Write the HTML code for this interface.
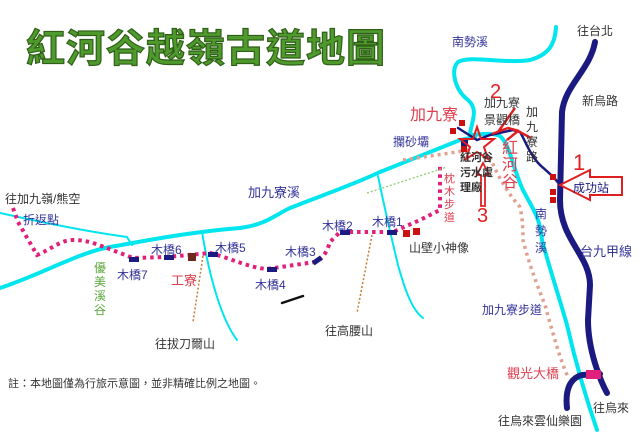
<!DOCTYPE html>
<html><head><meta charset="utf-8"><style>
html,body{margin:0;padding:0;background:#fff;}
svg{display:block;}
text{font-family:"Liberation Sans","Noto Sans CJK TC",sans-serif;}
</style></head><body>
<svg width="640" height="443" viewBox="0 0 640 443" xmlns="http://www.w3.org/2000/svg">
<rect width="640" height="443" fill="#fff"/>
<!-- title -->
<text x="26" y="62" font-size="39" font-weight="bold" fill="#4f9a2c" stroke="#2f5f18" stroke-width="1.2" letter-spacing="1">紅河谷越嶺古道地圖</text>

<!-- rivers -->
<g fill="none" stroke="#00e5ee" stroke-linecap="round">
<path d="M0,288 C40,275 80,252 110,247 C150,240 190,232 240,228 C265,225 275,215 290,208 C320,196 350,186 380,172 C410,160 440,148 460,140 L475,137" stroke-width="4"/>
<path d="M556,27 C555,45 548,55 530,60 C505,64 470,55 458,62 C450,70 455,90 468,100 C480,110 470,125 470,135 C478,135 490,132 500,136 C510,145 512,165 522,188 C530,205 540,215 542,240 C550,270 560,300 567,325 C575,360 585,395 597,430" stroke-width="4"/>
<path d="M0,213 C40,222 90,232 127,237 L132,245" stroke-width="2"/>
<path d="M202,232 C210,280 222,320 237,340" stroke-width="2"/>
<path d="M378,176 C385,210 392,240 398,265 C405,290 412,310 423,318" stroke-width="2"/>
</g>

<!-- roads -->
<g fill="none" stroke="#1a1a80" stroke-linecap="round">
<path d="M595,42 C590,70 565,85 562,112 L560,200 C560,240 590,255 590,285 L588,320 C588,350 600,380 607,393" stroke-width="6"/>
<path d="M600,374 L582,375 C570,378 565,390 567,408" stroke-width="6"/>
<path d="M458,128 L477,140 L490,135 L513,130 L520,132 C525,140 530,155 540,165 C548,172 555,178 560,185" stroke-width="2.5"/>
<path d="M282,303 L303,296" stroke-width="2.5" stroke="#111"/>
</g>
<rect x="586" y="370" width="15" height="9" fill="#e0207a"/>

<!-- dotted trails -->
<path d="M13,208 L18,222 L37,255 C50,250 60,240 73,240 C90,240 100,246 107,248 L133,258 L167,257 L210,253 C230,258 250,268 267,269 L315,262 C325,258 328,248 330,242 L340,232 L393,232 L420,220 L440,210 L440,163" fill="none" stroke="#e0207a" stroke-width="4" stroke-dasharray="3.5 4" stroke-linecap="butt"/>
<path d="M403,160 L470,150 M490,157 C495,170 505,190 520,207 C523,220 523,235 523,240 C528,260 535,280 545,305 C552,330 560,360 568,377" fill="none" stroke="#e0a090" stroke-width="3.5" stroke-dasharray="3 4"/>
<path d="M367,193 L447,167" fill="none" stroke="#8ccf70" stroke-width="1.3" stroke-dasharray="2 2"/>
<path d="M203,256 L193,322 M372,235 L357,313" fill="none" stroke="#c87a30" stroke-width="1.5" stroke-dasharray="2 2"/>

<!-- bridges -->
<g fill="#1a1a80">
<rect x="129" y="257" width="10" height="5"/>
<rect x="164" y="255" width="10" height="5"/>
<rect x="208" y="252" width="10" height="5"/>
<rect x="267" y="267" width="10" height="5"/>
<rect x="312" y="258" width="10" height="5" transform="rotate(-35 317 260)"/>
<rect x="340" y="230" width="10" height="5"/>
<rect x="387" y="230" width="10" height="5"/>
</g>
<rect x="188" y="253" width="8" height="8" fill="#6b2a20"/>

<!-- red squares -->
<g fill="#cc1111">
<rect x="403" y="230" width="7" height="7"/><rect x="413" y="228" width="7" height="7"/>
<rect x="459" y="120" width="6" height="6"/><rect x="450" y="128" width="6" height="6"/>
<rect x="461" y="146" width="6" height="6"/>
<rect x="550" y="174" width="6" height="6"/><rect x="550" y="189" width="6" height="6"/><rect x="550" y="197" width="6" height="6"/>
</g>
<rect x="461" y="140" width="7" height="6" fill="#1a1a80"/>
<circle cx="568" cy="185" r="2" fill="#1a1a80"/>

<!-- red star -->
<path d="M477,127 L481,139 L494,139 L484,147 L488,159 L477,152 L466,159 L470,147 L460,139 L473,139 Z" fill="none" stroke="#e02020" stroke-width="2"/>
<!-- arrow 3 -->
<path d="M481,206 L481,175 L477,175 L483,163 L489,175 L485,175 L485,206 Z" fill="none" stroke="#e02020" stroke-width="1.8"/>
<!-- arrows 2 -->
<path d="M515,108 L498,132 M492,134 L508,128 L519,131 M507,140 L518,131 L531,138" fill="none" stroke="#e02020" stroke-width="2.5"/>
<!-- arrow 1 -->
<path d="M560,185 L590,170 L590,177 L622,177 L622,195 L590,195 L590,200 Z" fill="#fff" stroke="#e02020" stroke-width="2"/>

<!-- labels -->
<g font-size="12" fill="#333">
<text x="5" y="203">往加九嶺/熊空</text>
<text x="155" y="348">往拔刀爾山</text>
<text x="325" y="335">往高腰山</text>
<text x="409" y="252">山壁小神像</text>
<text x="484" y="107">加九寮</text>
<text x="484" y="124">景觀橋</text>
<text x="577" y="35">往台北</text>
<text x="582" y="105">新烏路</text>
<text x="573" y="192" fill="#1a1a80">成功站</text>
<text x="593" y="412">往烏來</text>
<text x="498" y="425">往烏來雲仙樂園</text>
<text x="8" y="387" font-size="11">註：本地圖僅為行旅示意圖，並非精確比例之地圖。</text>
<text x="526" y="116">加</text><text x="526" y="131">九</text><text x="526" y="146">寮</text><text x="526" y="161">路</text>
<text x="460" y="161" font-size="11" font-weight="bold">紅河谷</text>
<text x="460" y="176" font-size="11" font-weight="bold">污水處</text>
<text x="460" y="191" font-size="11" font-weight="bold">理廠</text>
</g>
<g font-size="12" fill="#333399">
<text x="23" y="224">折返點</text>
<text x="248" y="197" font-size="13">加九寮溪</text>
<text x="117" y="279">木橋7</text>
<text x="151" y="254">木橋6</text>
<text x="215" y="252">木橋5</text>
<text x="255" y="289">木橋4</text>
<text x="285" y="256">木橋3</text>
<text x="322" y="230">木橋2</text>
<text x="372" y="226">木橋1</text>
<text x="393" y="146">攔砂壩</text>
<text x="452" y="46">南勢溪</text>
<text x="535" y="218">南</text><text x="535" y="235">勢</text><text x="535" y="252">溪</text>
<text x="580" y="256" font-size="13">台九甲線</text>
<text x="482" y="314">加九寮步道</text>
</g>
<g font-size="12" fill="#5aa63a">
<text x="94" y="272">優</text><text x="94" y="286">美</text><text x="94" y="300">溪</text><text x="94" y="314">谷</text>
</g>
<g fill="#e04050">
<text x="171" y="285" font-size="13">工寮</text>
<text x="410" y="120" font-size="16">加九寮</text>
<text x="507" y="378" font-size="13">觀光大橋</text>
<text x="502" y="153" font-size="16">紅</text><text x="502" y="170" font-size="16">河</text><text x="502" y="187" font-size="16">谷</text>
<text x="444" y="182" font-size="11">枕</text><text x="444" y="195" font-size="11">木</text><text x="444" y="208" font-size="11">步</text><text x="444" y="221" font-size="11">道</text>
</g>
<g fill="#e02020" font-size="20">
<text x="490" y="98">2</text>
<text x="477" y="222">3</text>
<text x="573" y="170" font-size="22">1</text>
</g>
</svg>
</body></html>
